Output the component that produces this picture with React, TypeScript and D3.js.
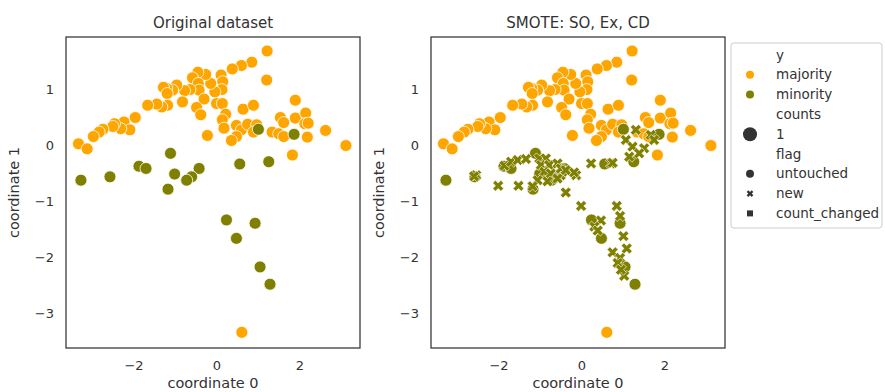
import React from "react";
import * as d3 from "d3";

// original data, coordinate 0 / coordinate 1
const majorityX = [
  1.21, 1.2, 0.84, 0.59, 0.37, 0.1, 0.14, 0.12, -0.05, -0.15, -0.27, -0.46, -0.59, -0.45, -0.43,
  -0.31, -0.49, -0.39, -0.65, -0.78, -0.83, -0.97, -1.07, -1.21, -1.29, -1.2, -1.19, -1.33, -1.45,
  -1.67, -1.97, -2.24, -2.1, -2.32, -2.47, -2.51, -2.75, -2.84, -2.98, -3.34, -3.13, -0.23, -0.01,
  0.13, 0.21, 0.13, 0.17, 0.63, 0.88, 0.47, 0.59, 0.74, 0.96, 0.88, 0.47, 0.35, 1.33, 1.49, 1.61,
  1.53, 1.61, 1.89, 1.89, 2.14, 2.12, 2.2, 2.18, 1.82, 2.62, 3.11, 0.6,
];
const majorityY = [
  1.68, 1.16, 1.48, 1.42, 1.36, 1.25, 1.13, 0.99, 0.95, 1.1, 1.26, 1.3, 1.2, 1.1, 0.98, 0.82, 0.67,
  0.54, 0.99, 0.97, 0.77, 1.07, 0.98, 1.01, 1.03, 0.92, 0.71, 0.68, 0.73, 0.71, 0.49, 0.41, 0.27,
  0.29, 0.38, 0.33, 0.28, 0.23, 0.15, 0.02, -0.07, 0.17, 0.74, 0.74, 0.55, 0.45, 0.3, 0.64, 0.71,
  0.35, 0.27, 0.37, 0.36, 0.23, 0.15, 0.08, 0.23, 0.2, 0.15, 0.49, 0.4, 0.8, 0.48, 0.57, 0.38, 0.39,
  0.14, -0.18, 0.26, -0.01, -3.35,
];
const minorityX = [
  1.0, 1.86, -1.12, -3.28, -2.58, -1.88, -1.71, -1.02, -0.43, -0.61, -0.73, -1.18, 0.55, 1.25, 0.23,
  0.92, 0.47, 1.04, 1.28,
];
const minorityY = [
  0.28, 0.19, -0.15, -0.63, -0.57, -0.38, -0.42, -0.52, -0.42, -0.57, -0.63, -0.79, -0.34, -0.3,
  -1.34, -1.4, -1.67, -2.18, -2.49,
];
// synthetic minority samples (SMOTE), right panel only
const newX = [
  -2.55, -2.6, -2.02, -1.53, -1.87, -1.71, -1.55, -1.35, -1.03, -0.87, -0.99, -0.79, -0.59, -0.91,
  -0.75, -0.51, -0.34, -0.14, -1.07, -1.19, -0.83, -0.59, -0.39, -0.51, 0.22, 0.7, -0.19, -0.39,
  -0.02, 0.84, 0.46, 0.3, 0.38, 0.92, 1.0, 1.08, 0.74, 0.92, 0.86, 1.02, 0.94, 1.06, 1.22, 1.5, 1.38,
  1.3, 1.66, 1.74, 1.14, 0.74,
];
const newY = [
  -0.54, -0.56, -0.73, -0.73, -0.37, -0.3, -0.27, -0.25, -0.24, -0.24, -0.36, -0.36, -0.33, -0.48,
  -0.51, -0.54, -0.48, -0.54, -0.63, -0.74, -0.65, -0.6, -0.85, -0.42, -0.33, -0.33, -0.49, -0.45,
  -1.09, -1.09, -1.35, -1.46, -1.53, -1.27, -1.63, -1.85, -1.92, -2.02, -2.11, -2.34, -2.23, 0.09,
  -0.03, -0.06, -0.15, 0.27, 0.18, 0.09, -0.21, -0.32,
];
const xTicks = [-2, 0, 2];
const yTicks = [1, 0, -1, -2, -3];
const titles = ["Original dataset", "SMOTE: SO, Ex, CD"];
const legendItems = [
  { label: "y", kind: "head" },
  { label: "majority", kind: "majority" },
  { label: "minority", kind: "minority" },
  { label: "counts", kind: "head" },
  { label: "1", kind: "size" },
  { label: "flag", kind: "head" },
  { label: "untouched", kind: "circle" },
  { label: "new", kind: "x" },
  { label: "count_changed", kind: "square" },
];

const ORANGE = "#ffa500";
const OLIVE = "#808000";
const TEXT = "#333";
const FONT = "DejaVu Sans, sans-serif";

const xPath = (size: number) =>
  d3.symbol().type(d3.symbolCross).size(size)() as string;

const fmt = (t: number) => (t < 0 ? "\u2212" + Math.abs(t) : String(t));

function Panel({ left, showNew, title }: { left: number; showNew: boolean; title: string }) {
  const top = 37;
  const bottom = 348;
  const x = d3.scaleLinear().domain([-3.64, 3.45]).range([left, left + 294]);
  const y = d3.scaleLinear().domain([1.93, -3.63]).range([top, bottom]);
  const majority = d3.zip(majorityX, majorityY);
  const minority = d3.zip(minorityX, minorityY);
  const created = d3.zip(newX, newY);
  const xMark = xPath(75);
  return (
    <g>
      <text x={left + 147} y={28} textAnchor="middle" fontSize={15} fill={TEXT}>
        {title}
      </text>
      {majority.map(([a, b], i) => (
        <circle key={"M" + i} cx={x(a)} cy={y(b)} r={6} fill={ORANGE} stroke="#fff" strokeWidth={0.8} />
      ))}
      {minority.map(([a, b], i) => (
        <circle key={"m" + i} cx={x(a)} cy={y(b)} r={6} fill={OLIVE} stroke="#fff" strokeWidth={0.8} />
      ))}
      {showNew &&
        created.map(([a, b], i) => (
          <path
            key={"n" + i}
            d={xMark}
            transform={`translate(${x(a)},${y(b)}) rotate(45)`}
            fill={OLIVE}
            stroke="#fff"
            strokeWidth={0.6}
          />
        ))}
      <rect x={left} y={top} width={294} height={bottom - top} fill="none" stroke={TEXT} strokeWidth={1.25} />
      {xTicks.map((t) => (
        <text key={"xt" + t} x={x(t)} y={370} textAnchor="middle" fontSize={13} fill={TEXT}>
          {fmt(t)}
        </text>
      ))}
      {yTicks.map((t) => (
        <text key={"yt" + t} x={left - 12} y={y(t) + 5} textAnchor="end" fontSize={13} fill={TEXT}>
          {fmt(t)}
        </text>
      ))}
      <text x={left + 147} y={388} textAnchor="middle" fontSize={14.5} fill={TEXT}>
        coordinate 0
      </text>
      <text
        transform={`translate(${left - 47},${(top + bottom) / 2}) rotate(-90)`}
        textAnchor="middle"
        fontSize={14.5}
        fill={TEXT}
      >
        coordinate 1
      </text>
    </g>
  );
}

function Legend() {
  const lx = 731;
  const ly = 43;
  return (
    <g>
      <rect x={lx} y={ly} width={151} height={185} rx={3} fill="#fff" fillOpacity={0.8} stroke="#ccc" />
      {legendItems.map((item, i) => {
        const cy = 55 + i * 19.8;
        let mark: React.ReactNode = null;
        if (item.kind === "majority") mark = <circle cx={750} cy={cy} r={4} fill={ORANGE} />;
        if (item.kind === "minority") mark = <circle cx={750} cy={cy} r={4} fill={OLIVE} />;
        if (item.kind === "size") mark = <circle cx={750} cy={cy} r={7} fill={TEXT} />;
        if (item.kind === "circle") mark = <circle cx={750} cy={cy} r={4} fill={TEXT} />;
        if (item.kind === "x")
          mark = <path d={xPath(28)} transform={`translate(750,${cy}) rotate(45)`} fill={TEXT} />;
        if (item.kind === "square") mark = <rect x={747} y={cy - 3} width={6} height={6} fill={TEXT} />;
        return (
          <g key={item.label}>
            {mark}
            <text x={776} y={cy + 4.5} fontSize={13.5} fill={TEXT}>
              {item.label}
            </text>
          </g>
        );
      })}
    </g>
  );
}

export default function App() {
  return (
    <svg
      width={885}
      height={392}
      style={{ position: "absolute", left: 0, top: 0, background: "#fff" }}
      fontFamily={FONT}
    >
      <Panel left={66} showNew={false} title={titles[0]} />
      <Panel left={431} showNew={true} title={titles[1]} />
      <Legend />
    </svg>
  );
}
